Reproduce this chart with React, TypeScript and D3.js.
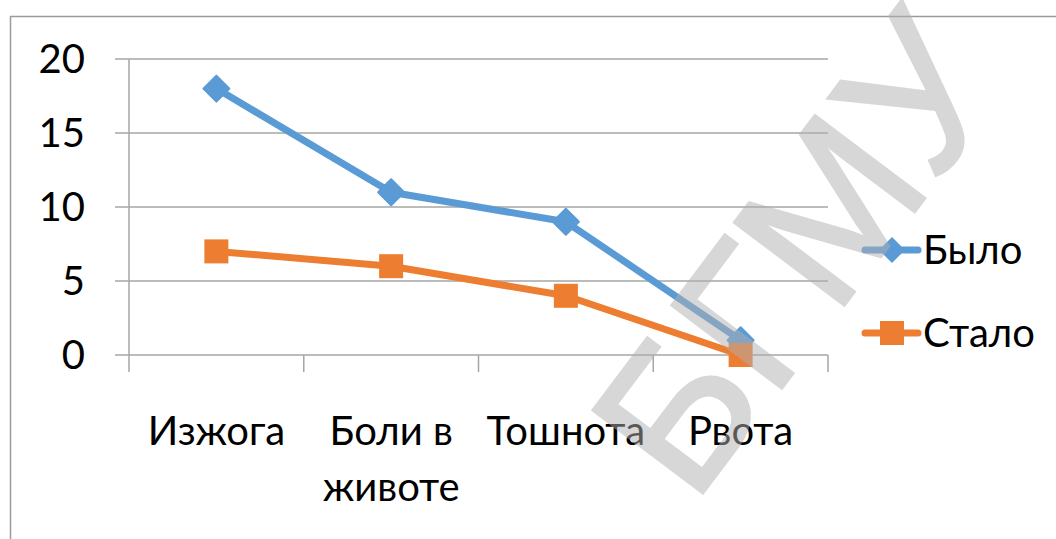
import React, { useEffect, useRef } from "react";
import * as d3 from "d3";

const categories = ["Изжога", "Боли в животе", "Тошнота", "Рвота"];
const categoryLines = [["Изжога"], ["Боли в", "животе"], ["Тошнота"], ["Рвота"]];
const before = [18, 11, 9, 1];
const after = [7, 6, 4, 0];
const yTicks = [0, 5, 10, 15, 20];
const seriesNames = ["Было", "Стало"];

const FONT = "Lato, 'Open Sans', sans-serif";
const BLUE = "#5b9bd5";
const ORANGE = "#ed7d31";
const GRID = "#a6a6a6";

export default function App() {
  const ref = useRef<SVGSVGElement>(null);

  useEffect(() => {
    const svg = d3.select(ref.current);
    svg.selectAll("*").remove();

    // chart frame
    svg
      .append("rect")
      .attr("x", 10.5)
      .attr("y", 16.5)
      .attr("width", 1100)
      .attr("height", 600)
      .attr("fill", "white")
      .attr("stroke", "#9b9b9b")
      .attr("stroke-width", 1.5);

    const x = d3.scaleBand().domain(categories).range([129, 828]);
    const y = d3.scaleLinear().domain([0, 20]).range([355, 59]);

    // gridlines + left ticks
    svg
      .selectAll("line.grid")
      .data(yTicks)
      .enter()
      .append("line")
      .attr("x1", 115)
      .attr("x2", 828)
      .attr("y1", (d) => y(d))
      .attr("y2", (d) => y(d))
      .attr("stroke", GRID)
      .attr("stroke-width", 1.5);

    // y axis line
    svg
      .append("line")
      .attr("x1", 129)
      .attr("x2", 129)
      .attr("y1", y(20))
      .attr("y2", 372)
      .attr("stroke", GRID)
      .attr("stroke-width", 1.5);

    // category ticks
    const edges = categories.map((c) => x(c)! + x.bandwidth());
    svg
      .selectAll("line.ctick")
      .data(edges)
      .enter()
      .append("line")
      .attr("x1", (d) => d)
      .attr("x2", (d) => d)
      .attr("y1", y(0))
      .attr("y2", 372)
      .attr("stroke", GRID)
      .attr("stroke-width", 1.5);

    // y labels
    svg
      .selectAll("text.ylab")
      .data(yTicks)
      .enter()
      .append("text")
      .attr("x", 85)
      .attr("y", (d) => y(d) + 14)
      .attr("text-anchor", "end")
      .attr("font-family", FONT)
      .attr("font-size", 40)
      .attr("fill", "#000")
      .text((d) => d);

    // x labels
    categoryLines.forEach((lines, i) => {
      const cx = x(categories[i])! + x.bandwidth() / 2;
      lines.forEach((l, j) => {
        svg
          .append("text")
          .attr("x", cx)
          .attr("y", 445 + j * 56)
          .attr("text-anchor", "middle")
          .attr("font-family", FONT)
          .attr("font-size", 40)
          .attr("fill", "#000")
          .text(l);
      });
    });

    const cxOf = (i: number) => x(categories[i])! + x.bandwidth() / 2;
    const line = d3
      .line<number>()
      .x((d, i) => cxOf(i))
      .y((d) => y(d));

    const diamond = (cx: number, cy: number, r: number) =>
      `M${cx},${cy - r}L${cx + r},${cy}L${cx},${cy + r}L${cx - r},${cy}Z`;

    // Было
    svg
      .append("path")
      .attr("d", line(before))
      .attr("fill", "none")
      .attr("stroke", BLUE)
      .attr("stroke-width", 7)
      .attr("stroke-linejoin", "round");
    svg
      .selectAll("path.dm")
      .data(before)
      .enter()
      .append("path")
      .attr("d", (d, i) => diamond(cxOf(i), y(d), 13))
      .attr("fill", BLUE)
      .attr("stroke", BLUE)
      .attr("stroke-width", 2)
      .attr("stroke-linejoin", "round");

    // Стало
    svg
      .append("path")
      .attr("d", line(after))
      .attr("fill", "none")
      .attr("stroke", ORANGE)
      .attr("stroke-width", 7)
      .attr("stroke-linejoin", "round");
    svg
      .selectAll("rect.sq")
      .data(after)
      .enter()
      .append("rect")
      .attr("x", (d, i) => cxOf(i) - 12)
      .attr("y", (d) => y(d) - 12)
      .attr("width", 24)
      .attr("height", 24)
      .attr("fill", ORANGE);

    // legend
    const legendY = [250, 333];
    seriesNames.forEach((name, i) => {
      const ly = legendY[i];
      const color = i === 0 ? BLUE : ORANGE;
      svg
        .append("line")
        .attr("x1", 865)
        .attr("x2", 918)
        .attr("y1", ly)
        .attr("y2", ly)
        .attr("stroke", color)
        .attr("stroke-width", 7)
        .attr("stroke-linecap", "round");
      if (i === 0) {
        svg.append("path").attr("d", diamond(892, ly, 13)).attr("fill", color);
      } else {
        svg
          .append("rect")
          .attr("x", 880)
          .attr("y", ly - 12)
          .attr("width", 24)
          .attr("height", 24)
          .attr("fill", color);
      }
      svg
        .append("text")
        .attr("x", 923)
        .attr("y", ly + 14)
        .attr("font-family", FONT)
        .attr("font-size", 40)
        .attr("fill", "#000")
        .text(name);
    });

    // watermark
    svg
      .append("text")
      .attr("transform", "translate(693,506) rotate(-53)")
      .attr("font-family", "'Liberation Sans', Arial, sans-serif")
      .attr("font-size", 200)
      .attr("fill", "#b0b0b0")
      .attr("stroke", "#b0b0b0")
      .attr("stroke-width", 3)
      .attr("opacity", 0.5)
      .text("БГМУ");
  }, []);

  return (
    <div>
      <svg
        ref={ref}
        width={1056}
        height={539}
        style={{ position: "absolute", left: 0, top: 0, display: "block" }}
      />
    </div>
  );
}
